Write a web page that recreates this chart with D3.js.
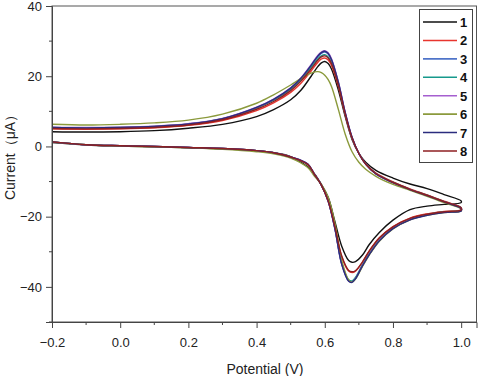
<!DOCTYPE html>
<html>
<head>
<meta charset="utf-8">
<script src="https://cdn.jsdelivr.net/npm/d3@7"></script>
<style>
  body { margin: 0; background: #fff; }
  svg { display: block; font-family: "Liberation Sans", Arial, sans-serif; }
  .tick text { font-size: 13px; fill: #222; }
</style>
</head>
<body>
<svg width="478" height="376"></svg>
<script>
// potentials (V) for the forward and the reverse sweep
const fwdV = [-0.2, -0.1, 0.0, 0.1, 0.2, 0.3, 0.4, 0.45, 0.5, 0.53, 0.56, 0.58, 0.59, 0.6, 0.61, 0.62, 0.64, 0.66, 0.68, 0.7, 0.72, 0.75, 0.8, 0.85, 0.9, 0.95, 1.0];
const revV = [1.0, 0.95, 0.9, 0.85, 0.8, 0.76, 0.73, 0.71, 0.69, 0.68, 0.67, 0.65, 0.63, 0.61, 0.59, 0.57, 0.55, 0.5, 0.45, 0.4, 0.3, 0.2, 0.1, 0.0, -0.1, -0.2];

// currents (uA)
const fwd1 = [4.2, 4.1, 4.2, 4.5, 5.2, 6.3, 8.5, 10.5, 13.3, 16.0, 20.0, 22.8, 23.8, 24.2, 23.6, 22.0, 16.0, 8.5, 2.0, -2.0, -4.5, -6.8, -9.0, -10.7, -12.0, -13.7, -15.5];
const rev1 = [-16.0, -16.5, -17.0, -18.0, -21.0, -24.5, -28.0, -31.0, -32.8, -33.0, -32.5, -28.5, -21.5, -14.5, -10.8, -7.8, -5.8, -2.9, -1.8, -1.2, -0.7, -0.4, -0.1, 0.1, 0.4, 1.1];

const fwd2 = [5.0, 4.9, 5.0, 5.3, 6.0, 7.4, 10.2, 12.4, 15.4, 18.0, 21.5, 24.0, 24.9, 25.2, 24.6, 23.0, 17.0, 9.0, 2.3, -2.0, -5.0, -7.6, -10.1, -12.1, -13.8, -15.6, -17.4];
const rev2 = [-18.0, -18.5, -19.2, -20.4, -22.8, -26.0, -29.8, -33.0, -35.5, -35.9, -35.5, -31.5, -23.0, -15.5, -11.0, -8.0, -5.2, -3.0, -1.8, -1.2, -0.6, -0.3, 0.0, 0.2, 0.5, 1.3];

const fwd3 = [5.3, 5.2, 5.3, 5.6, 6.3, 7.8, 11.0, 13.3, 16.5, 19.3, 23.0, 25.6, 26.5, 26.9, 26.3, 24.5, 18.0, 9.5, 2.5, -2.0, -5.0, -7.8, -10.3, -12.3, -14.0, -15.8, -17.6];
const rev3 = [-18.3, -18.7, -19.5, -20.8, -23.3, -26.8, -30.8, -34.0, -37.5, -38.5, -38.2, -33.5, -23.5, -15.5, -11.0, -8.0, -5.0, -3.0, -1.8, -1.2, -0.6, -0.3, 0.0, 0.2, 0.5, 1.3];

const fwd4 = [5.4, 5.3, 5.4, 5.7, 6.4, 7.9, 11.0, 13.2, 16.3, 19.0, 22.6, 25.0, 25.8, 26.1, 25.5, 23.8, 17.5, 9.3, 2.4, -2.0, -5.0, -7.7, -10.2, -12.2, -13.9, -15.7, -17.5];
const rev4 = [-18.2, -18.6, -19.4, -20.7, -23.2, -26.6, -30.6, -33.8, -37.3, -38.3, -38.0, -33.3, -23.4, -15.5, -11.0, -8.0, -5.1, -3.0, -1.8, -1.2, -0.6, -0.3, 0.0, 0.2, 0.5, 1.3];

const fwd5 = [5.5, 5.4, 5.5, 5.8, 6.5, 8.0, 11.2, 13.5, 16.7, 19.5, 23.3, 26.0, 26.9, 27.3, 26.7, 24.9, 18.3, 9.7, 2.6, -2.0, -5.0, -7.8, -10.3, -12.3, -14.0, -15.8, -17.6];
const rev5 = [-18.3, -18.7, -19.5, -20.8, -23.3, -26.8, -30.8, -34.0, -37.6, -38.6, -38.3, -33.6, -23.6, -15.6, -11.0, -8.0, -5.0, -3.0, -1.8, -1.2, -0.6, -0.3, 0.0, 0.2, 0.5, 1.3];

const fwd6 = [6.3, 6.1, 6.3, 6.7, 7.5, 9.2, 12.3, 14.7, 17.5, 19.3, 20.9, 21.3, 21.0, 20.3, 19.0, 17.0, 10.5, 3.5, -1.5, -4.5, -6.5, -8.5, -10.8, -12.5, -14.2, -16.0, -17.8];
const rev6 = [-18.4, -18.8, -19.6, -20.9, -23.5, -27.0, -31.0, -34.3, -37.8, -38.6, -38.0, -32.5, -22.0, -14.5, -10.8, -8.5, -6.0, -3.3, -2.1, -1.5, -0.8, -0.4, -0.1, 0.1, 0.5, 1.3];

const fwd7 = [5.4, 5.3, 5.4, 5.7, 6.4, 7.9, 11.1, 13.4, 16.6, 19.4, 23.1, 25.8, 26.7, 27.1, 26.5, 24.7, 18.2, 9.6, 2.6, -2.0, -5.0, -7.8, -10.3, -12.3, -14.0, -15.8, -17.7];
const rev7 = [-18.4, -18.8, -19.6, -20.9, -23.4, -26.9, -30.9, -34.1, -37.7, -38.7, -38.4, -33.7, -23.6, -15.6, -11.0, -8.0, -5.0, -3.0, -1.8, -1.2, -0.6, -0.3, 0.0, 0.2, 0.5, 1.3];

const fwd8 = [5.1, 5.0, 5.1, 5.4, 6.1, 7.6, 10.6, 12.8, 15.9, 18.6, 22.1, 24.6, 25.5, 25.8, 25.2, 23.5, 17.3, 9.2, 2.4, -2.0, -5.0, -7.7, -10.2, -12.2, -13.9, -15.7, -17.5];
const rev8 = [-18.1, -18.6, -19.3, -20.5, -22.9, -26.1, -29.9, -33.0, -35.4, -35.7, -35.3, -31.3, -23.0, -15.5, -11.0, -8.0, -5.1, -3.0, -1.8, -1.2, -0.6, -0.3, 0.0, 0.2, 0.5, 1.3];

const seriesNames = ['1', '2', '3', '4', '5', '6', '7', '8'];
const seriesColors = ['#111111', '#e8352e', '#4f74c9', '#16998c', '#a55fcf', '#8b9a3c', '#2b2c7e', '#8e1f22'];
const fwdAll = [fwd1, fwd2, fwd3, fwd4, fwd5, fwd6, fwd7, fwd8];
const revAll = [rev1, rev2, rev3, rev4, rev5, rev6, rev7, rev8];

const xTicks = [-0.2, 0.0, 0.2, 0.4, 0.6, 0.8, 1.0];
const yTicks = [-40, -20, 0, 20, 40];

const svg = d3.select('svg');
const mLeft = 52, mRight = 476.5, mTop = 6, mBottom = 322;

const x = d3.scaleLinear().domain([-0.2, 1.045]).range([mLeft, mRight]);
const y = d3.scaleLinear().domain([-50, 40]).range([mBottom, mTop]);

// curves
const line = d3.line()
  .x(d => x(d[0]))
  .y(d => y(d[1]))
  .curve(d3.curveCatmullRom.alpha(0.5));

const plot = svg.append('g');
seriesNames.forEach((name, i) => {
  const pts = fwdV.map((v, j) => [v, fwdAll[i][j]])
    .concat(revV.map((v, j) => [v, revAll[i][j]]));
  plot.append('path')
    .attr('d', line(pts))
    .attr('fill', 'none')
    .attr('stroke', seriesColors[i])
    .attr('stroke-width', 1.4);
});

// frame
svg.append('rect')
  .attr('x', mLeft).attr('y', mTop)
  .attr('width', mRight - mLeft).attr('height', mBottom - mTop)
  .attr('fill', 'none').attr('stroke', '#555').attr('stroke-width', 1);

// axes
const xAxis = svg.append('g')
  .attr('transform', `translate(0, ${mBottom})`)
  .call(d3.axisBottom(x).tickValues(xTicks).tickFormat(d3.format('.1f')).tickSize(6).tickPadding(10));
xAxis.append('g').selectAll('line')
  .data(d3.range(-0.1, 1.0, 0.2))
  .join('line')
  .attr('x1', d => x(d)).attr('x2', d => x(d))
  .attr('y1', 0).attr('y2', 3)
  .attr('stroke', '#444');

const yAxis = svg.append('g')
  .attr('transform', `translate(${mLeft}, 0)`)
  .call(d3.axisLeft(y).tickValues(yTicks).tickSize(6).tickPadding(4));
yAxis.append('g').selectAll('line')
  .data([-50, -30, -10, 10, 30])
  .join('line')
  .attr('y1', d => y(d)).attr('y2', d => y(d))
  .attr('x1', 0).attr('x2', -3)
  .attr('stroke', '#444');

svg.selectAll('.domain').attr('stroke', '#444');
svg.selectAll('.tick line').attr('stroke', '#444');

// axis titles
svg.append('text')
  .attr('x', 265).attr('y', 374)
  .attr('text-anchor', 'middle')
  .attr('font-size', 14)
  .attr('fill', '#222')
  .text('Potential (V)');

svg.append('text')
  .attr('transform', `translate(15, ${(mTop + mBottom) / 2 - 10}) rotate(-90)`)
  .attr('text-anchor', 'middle')
  .attr('font-size', 14)
  .attr('fill', '#222')
  .text('Current\uFF08\u03BCA\uFF09');

// legend
const legend = svg.append('g');
legend.append('rect')
  .attr('x', 419.5).attr('y', 9.5)
  .attr('width', 53).attr('height', 153)
  .attr('fill', '#fff').attr('stroke', '#444');

const ly = d3.scalePoint().domain(seriesNames).range([22, 151]);
seriesNames.forEach((name, i) => {
  legend.append('line')
    .attr('x1', 423).attr('x2', 457)
    .attr('y1', ly(name)).attr('y2', ly(name))
    .attr('stroke', seriesColors[i]).attr('stroke-width', 1.6);
  legend.append('text')
    .attr('x', 460).attr('y', ly(name) + 5)
    .attr('font-size', 13).attr('font-weight', 'bold')
    .attr('fill', '#111')
    .text(name);
});
</script>
</body>
</html>
